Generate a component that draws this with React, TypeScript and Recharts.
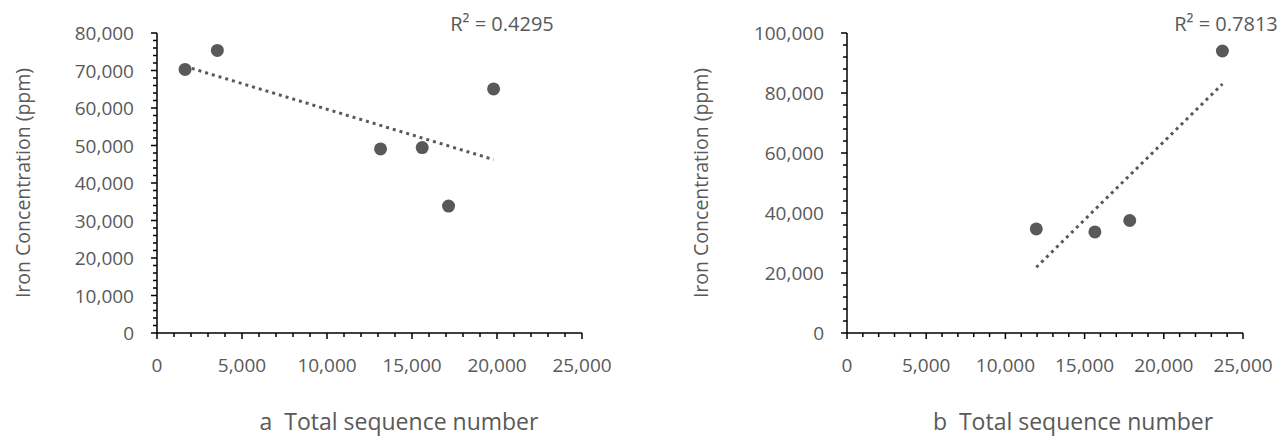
import React from 'react';
import { ScatterChart, Scatter, XAxis, YAxis } from 'recharts';

// panel a
const seqA = [1650, 3550, 13150, 15600, 17150, 19800];
const ironA = [70300, 75350, 49100, 49450, 33850, 65100];
const trendSeqA = [1650, 19800];
const trendIronA = [71100, 46250];
const r2A = 'R² = 0.4295';

// panel b
const seqB = [11950, 15650, 17850, 23700];
const ironB = [34700, 33700, 37500, 94000];
const trendSeqB = [11950, 23700];
const trendIronB = [21900, 83000];
const r2B = 'R² = 0.7813';

const xMajor = [0, 5000, 10000, 15000, 20000, 25000];
const yMajorA = [0, 10000, 20000, 30000, 40000, 50000, 60000, 70000, 80000];
const yMajorB = [0, 20000, 40000, 60000, 80000, 100000];

const yTitle = 'Iron Concentration (ppm)';
const xTitleA = 'a  Total sequence number';
const xTitleB = 'b  Total sequence number';

const TEXT = '#595959';
const MARK = '#595959';
const FONT = '"Open Sans", sans-serif';
const TICK_FS = 19;

const range = (max: number, step: number) => {
  const out: number[] = [];
  for (let v = 0; v <= max; v += step) out.push(v);
  return out;
};

const toPoints = (xs: number[], ys: number[]) => xs.map((x, i) => ({ x, y: ys[i] }));

const fmt = (v: number) => v.toLocaleString('en-US');

const XTick = (props: any) => {
  const { x, y, payload, majors } = props;
  const major = majors.includes(payload.value);
  return (
    <g>
      <line x1={x} x2={x} y1={y} y2={y + (major ? 6 : 4)} stroke="#000" strokeWidth={1.5} />
      {major && (
        <text x={x} y={y + 32} textAnchor="middle" dominantBaseline="central" fill={TEXT} fontSize={TICK_FS} fontFamily={FONT}>
          {fmt(payload.value)}
        </text>
      )}
    </g>
  );
};

const YTick = (props: any) => {
  const { x, y, payload, majors } = props;
  const major = majors.includes(payload.value);
  return (
    <g>
      <line x1={x} x2={x - (major ? 6 : 4)} y1={y} y2={y} stroke="#000" strokeWidth={1.5} />
      {major && (
        <text x={x - 23} y={y} textAnchor="end" dominantBaseline="central" fill={TEXT} fontSize={TICK_FS} fontFamily={FONT}>
          {fmt(payload.value)}
        </text>
      )}
    </g>
  );
};

const Dot = (p: any) => <circle cx={p.cx} cy={p.cy} r={6.5} fill={MARK} />;
const NoDot = () => <g />;

interface PanelProps {
  width: number;
  yAxisWidth: number;
  right: number;
  points: { x: number; y: number }[];
  trend: { x: number; y: number }[];
  yMax: number;
  yMajor: number[];
  yMinorStep: number;
  r2: string;
  r2X: number;
  yTitleX: number;
  xTitle: string;
  xTitleX: number;
}

const Panel = (p: PanelProps) => (
  <ScatterChart width={p.width} height={437} margin={{ top: 33, right: p.right, bottom: 0, left: 0 }}>
    <XAxis
      type="number"
      dataKey="x"
      domain={[0, 25000]}
      ticks={range(25000, 1000)}
      interval={0}
      height={104}
      tickSize={0}
      tickMargin={0}
      tickLine={false}
      axisLine={{ stroke: '#000', strokeWidth: 1.5 }}
      tick={(t: any) => <XTick {...t} majors={xMajor} />}
    />
    <YAxis
      type="number"
      dataKey="y"
      domain={[0, p.yMax]}
      ticks={range(p.yMax, p.yMinorStep)}
      interval={0}
      width={p.yAxisWidth}
      tickSize={0}
      tickMargin={0}
      tickLine={false}
      axisLine={{ stroke: '#000', strokeWidth: 1.5 }}
      tick={(t: any) => <YTick {...t} majors={p.yMajor} />}
    />
    <Scatter
      data={p.trend}
      line={{ stroke: MARK, strokeWidth: 3, strokeDasharray: '3 4' }}
      shape={NoDot}
      isAnimationActive={false}
    />
    <Scatter data={p.points} shape={Dot} isAnimationActive={false} />
    <text x={p.r2X} y={23} textAnchor="middle" dominantBaseline="central" fill={TEXT} fontSize={20} fontFamily={FONT}>
      {p.r2}
    </text>
    <text
      x={p.yTitleX}
      y={183}
      transform={`rotate(-90, ${p.yTitleX}, 183)`}
      textAnchor="middle"
      dominantBaseline="central"
      fill={TEXT}
      fontSize={19.5}
      fontFamily={FONT}
    >
      {yTitle}
    </text>
    <text
      x={p.xTitleX}
      y={421}
      textAnchor="middle"
      dominantBaseline="central"
      fill={TEXT}
      fontSize={23}
      fontFamily={FONT}
      style={{ whiteSpace: 'pre' }}
    >
      {p.xTitle}
    </text>
  </ScatterChart>
);

export default function App() {
  return (
    <div style={{ position: 'absolute', left: 0, top: 0, width: 1285, height: 437, background: '#fff', display: 'flex' }}>
      <Panel
        width={640}
        yAxisWidth={157}
        right={58}
        points={toPoints(seqA, ironA)}
        trend={toPoints(trendSeqA, trendIronA)}
        yMax={80000}
        yMajor={yMajorA}
        yMinorStep={2000}
        r2={r2A}
        r2X={502}
        yTitleX={22}
        xTitle={xTitleA}
        xTitleX={399}
      />
      <Panel
        width={645}
        yAxisWidth={207}
        right={42}
        points={toPoints(seqB, ironB)}
        trend={toPoints(trendSeqB, trendIronB)}
        yMax={100000}
        yMajor={yMajorB}
        yMinorStep={4000}
        r2={r2B}
        r2X={586}
        yTitleX={60}
        xTitle={xTitleB}
        xTitleX={433}
      />
    </div>
  );
}
